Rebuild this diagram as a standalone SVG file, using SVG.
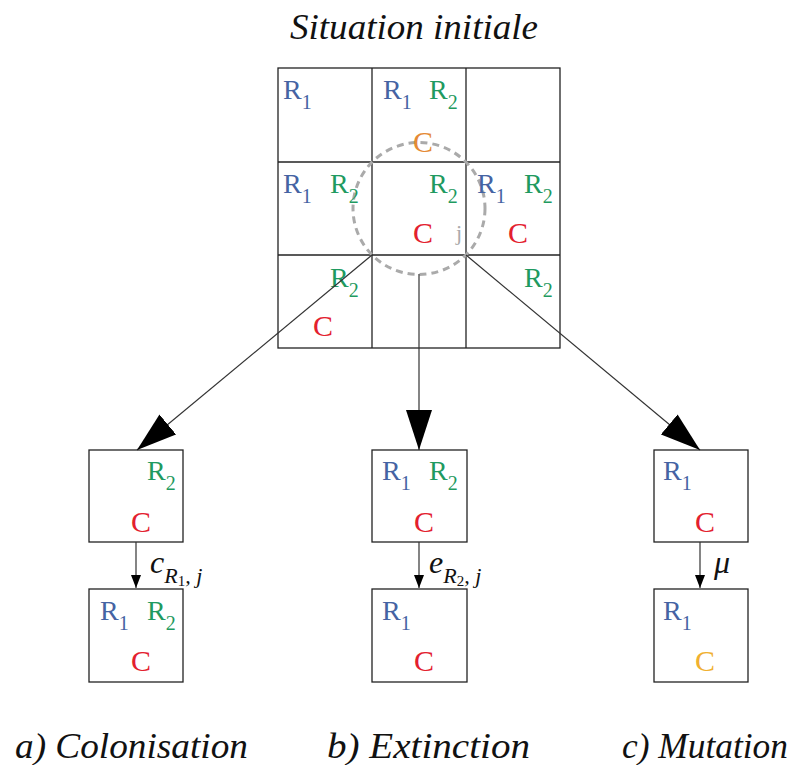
<svg xmlns="http://www.w3.org/2000/svg" width="800" height="765" viewBox="0 0 800 765">
<style>
.cell{fill:none;stroke:#222;stroke-width:1.3}
.R{font-size:28px}
.C{font-size:30px}
.b{fill:#4563a3}
.g{fill:#1f9a60}
.r{fill:#e3202e}
.o{fill:#e58a35}
.y{fill:#f0b030}
.sub{font-size:20px}
.lbl{font-style:italic;font-size:36px;fill:#111}
.m{font-style:italic;fill:#111}
.ln{stroke:#333;stroke-width:1.2;fill:none}
</style>
<defs>
<marker id="big" viewBox="0 0 40 26" refX="40" refY="13" markerWidth="40" markerHeight="26" markerUnits="userSpaceOnUse" orient="auto">
<path d="M0,0 L40,13 L0,26 Z" fill="#000"/>
</marker>
<marker id="small" viewBox="0 0 13 10" refX="13" refY="5" markerWidth="13" markerHeight="10" markerUnits="userSpaceOnUse" orient="auto">
<path d="M0,0 L13,5 L0,10 Z" fill="#000"/>
</marker>
</defs>
<rect width="800" height="765" fill="#fff"/>

<g font-family="Liberation Serif, DejaVu Serif, serif">
<text class="lbl" x="290" y="39" textLength="248" lengthAdjust="spacingAndGlyphs" style="font-size:35px">Situation initiale</text>

<g id="initial">
<rect class="cell" x="278" y="68" width="282" height="280"/>
<line class="cell" x1="372" y1="68" x2="372" y2="348"/>
<line class="cell" x1="466" y1="68" x2="466" y2="348"/>
<line class="cell" x1="278" y1="162" x2="560" y2="162"/>
<line class="cell" x1="278" y1="255" x2="560" y2="255"/>
<circle cx="419" cy="208.5" r="66" fill="none" stroke="#aaa" stroke-width="3" stroke-dasharray="7 5"/>
<text class="R b" x="283" y="99">R<tspan class="sub" dy="10">1</tspan></text>
<text class="R b" x="383" y="99">R<tspan class="sub" dy="10">1</tspan></text>
<text class="R g" x="429" y="99">R<tspan class="sub" dy="10">2</tspan></text>
<text class="C o" x="413" y="152">C</text>
<text class="R b" x="283" y="193">R<tspan class="sub" dy="10">1</tspan></text>
<text class="R g" x="330" y="193">R<tspan class="sub" dy="10">2</tspan></text>
<text class="R g" x="429" y="193">R<tspan class="sub" dy="10">2</tspan></text>
<text class="C r" x="413" y="243">C</text>
<text x="456" y="240" font-size="22" fill="#aaa">j</text>
<text class="R b" x="477" y="193">R<tspan class="sub" dy="10">1</tspan></text>
<text class="R g" x="524" y="193">R<tspan class="sub" dy="10">2</tspan></text>
<text class="C r" x="508" y="243">C</text>
<text class="R g" x="330" y="287">R<tspan class="sub" dy="10">2</tspan></text>
<text class="C r" x="313" y="336">C</text>
<text class="R g" x="524" y="287">R<tspan class="sub" dy="10">2</tspan></text>
</g>

<g id="colon-before">
<rect class="cell" x="89" y="450" width="94" height="92"/>
<text class="R g" x="147" y="480">R<tspan class="sub" dy="10">2</tspan></text>
<text class="C r" x="131" y="532">C</text>
</g>
<g id="colon-after">
<rect class="cell" x="89" y="589" width="94" height="93"/>
<text class="R b" x="100" y="620">R<tspan class="sub" dy="10">1</tspan></text>
<text class="R g" x="147" y="620">R<tspan class="sub" dy="10">2</tspan></text>
<text class="C r" x="131" y="671">C</text>
</g>

<g id="ext-before">
<rect class="cell" x="372" y="450" width="95" height="92"/>
<text class="R b" x="382" y="480">R<tspan class="sub" dy="10">1</tspan></text>
<text class="R g" x="429" y="480">R<tspan class="sub" dy="10">2</tspan></text>
<text class="C r" x="414" y="532">C</text>
</g>
<g id="ext-after">
<rect class="cell" x="372" y="589" width="95" height="93"/>
<text class="R b" x="382" y="620">R<tspan class="sub" dy="10">1</tspan></text>
<text class="C r" x="414" y="671">C</text>
</g>

<g id="mut-before">
<rect class="cell" x="654" y="450" width="94" height="92"/>
<text class="R b" x="663" y="480">R<tspan class="sub" dy="10">1</tspan></text>
<text class="C r" x="695" y="532">C</text>
</g>
<g id="mut-after">
<rect class="cell" x="654" y="589" width="94" height="93"/>
<text class="R b" x="663" y="620">R<tspan class="sub" dy="10">1</tspan></text>
<text class="C y" x="695" y="671">C</text>
</g>

<g id="connectors">
<line class="ln" x1="372" y1="255" x2="137" y2="450" marker-end="url(#big)"/>
<line class="ln" x1="419" y1="274" x2="419" y2="450" marker-end="url(#big)"/>
<line class="ln" x1="466" y1="255" x2="700" y2="450" marker-end="url(#big)"/>
<line class="ln" x1="136" y1="542" x2="136" y2="588" marker-end="url(#small)"/>
<line class="ln" x1="419" y1="542" x2="419" y2="588" marker-end="url(#small)"/>
<line class="ln" x1="700" y1="542" x2="700" y2="588" marker-end="url(#small)"/>
</g>

<text class="m" x="150" y="573" font-size="32">c<tspan dy="10" font-size="22">R</tspan><tspan dy="3" font-size="15" font-style="normal">1</tspan><tspan dy="-3" font-size="22">, j</tspan></text>
<text class="m" x="429" y="573" font-size="32">e<tspan dy="10" font-size="22">R</tspan><tspan dy="3" font-size="15" font-style="normal">2</tspan><tspan dy="-3" font-size="22">, j</tspan></text>
<text class="m" x="714" y="573" font-size="32">μ</text>

<text class="lbl" x="15" y="758" textLength="233" lengthAdjust="spacingAndGlyphs">a) Colonisation</text>
<text class="lbl" x="327" y="758" textLength="203" lengthAdjust="spacingAndGlyphs">b) Extinction</text>
<text class="lbl" x="622" y="758" textLength="166" lengthAdjust="spacingAndGlyphs">c) Mutation</text>
</g>
</svg>
